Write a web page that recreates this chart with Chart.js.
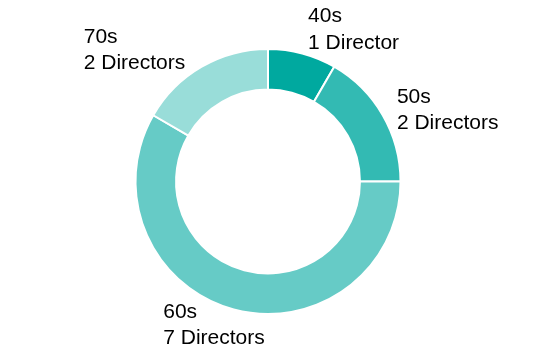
<!DOCTYPE html>
<html lang="en">
<head>
    <meta charset="UTF-8">
    <title>Directors by Age</title>
    <script src="https://cdn.jsdelivr.net/npm/chart.js"></script>
    <style>
        body { margin: 0; background: #fff; }
        #wrap { width: 536px; height: 364px; }
    </style>
</head>
<body>
    <div id="wrap">
        <canvas id="ageDoughnut" width="536" height="364"></canvas>
    </div>
    <script>
        // Data
        const ageGroups = ['40s', '50s', '60s', '70s'];
        const directorCounts = [1, 2, 7, 2];
        const sliceColors = ['#00A99F', '#33BAB3', '#66CBC6', '#99DDD9'];

        // where each label sits relative to the outer edge of its slice
        const labelPlacement = [
            { align: 'left', dx: 6, dy: -32 },
            { align: 'left', dx: 15, dy: -13 },
            { align: 'center', dx: -20, dy: 9 },
            { align: 'right', dx: -17, dy: -25 }
        ];

        const outsideLabels = {
            id: 'outsideLabels',
            afterDatasetsDraw(chart) {
                const ctx = chart.ctx;
                const arcs = chart.getDatasetMeta(0).data;
                ctx.save();
                ctx.font = '21px "Liberation Sans", Arial, sans-serif';
                ctx.fillStyle = '#000';
                ctx.textBaseline = 'alphabetic';
                arcs.forEach((arc, i) => {
                    const p = labelPlacement[i];
                    const mid = (arc.startAngle + arc.endAngle) / 2;
                    const r = arc.outerRadius - 1;
                    const ax = arc.x + Math.cos(mid) * r;
                    const ay = arc.y + Math.sin(mid) * r;
                    const n = directorCounts[i];
                    const lines = [ageGroups[i], n + ' Director' + (n === 1 ? '' : 's')];
                    const w = Math.max(...lines.map(t => ctx.measureText(t).width));
                    let left = ax + p.dx;
                    if (p.align === 'right') left -= w;
                    if (p.align === 'center') left -= w / 2;
                    ctx.textAlign = 'left';
                    lines.forEach((t, j) => ctx.fillText(t, left, ay + p.dy + j * 26.5));
                });
                ctx.restore();
            }
        };

        const ctx = document.getElementById('ageDoughnut').getContext('2d');
        new Chart(ctx, {
            type: 'doughnut',
            data: {
                labels: ageGroups,
                datasets: [{
                    data: directorCounts,
                    backgroundColor: sliceColors,
                    borderColor: '#ffffff',
                    borderWidth: 2,
                    hoverOffset: 0
                }]
            },
            options: {
                responsive: false,
                animation: false,
                cutout: '69.4%',
                layout: { padding: { top: 48, bottom: 49, left: 0, right: 0 } },
                plugins: {
                    legend: { display: false },
                    tooltip: { enabled: false }
                }
            },
            plugins: [outsideLabels]
        });
    </script>
</body>
</html>
